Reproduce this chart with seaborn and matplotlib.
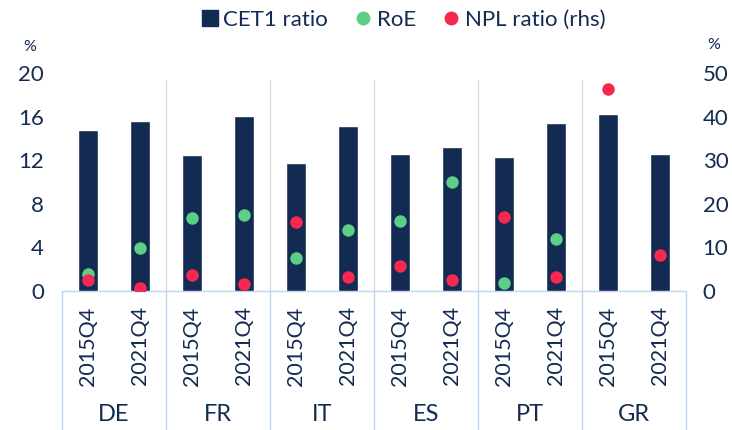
import numpy as np
import pandas as pd
import seaborn as sns
import matplotlib.pyplot as plt
from matplotlib.lines import Line2D
import matplotlib.transforms as mtransforms

# Data
countries = ['DE', 'FR', 'IT', 'ES', 'PT', 'GR']
periods = ['2015Q4', '2021Q4']
cet1 = [14.8, 15.6, 12.5, 16.1, 11.7, 15.1, 12.6, 13.2, 12.3, 15.4, 16.2, 12.6]
roe = [1.6, 3.9, 6.7, 7.0, 3.0, 5.6, 6.4, 10.0, 0.7, 4.8, np.nan, np.nan]
npl = [2.5, 0.8, 3.7, 1.6, 15.8, 3.2, 5.7, 2.5, 17.0, 3.2, 46.3, 8.3]

navy = '#132a52'
green = '#5ccf86'
red = '#f5284f'
box_blue = '#bcd6f3'
sep_grey = '#d9d9d9'

sns.set_style('white')
plt.rcParams['font.family'] = ['Lato', 'DejaVu Sans']

df = pd.DataFrame({
    'key': [f'{c}|{p}' for c in countries for p in periods],
    'cet1': cet1,
    'roe': roe,
    'npl': npl,
})
order = list(df['key'])

fig = plt.figure(figsize=(7.32, 4.30), dpi=100)
ax = fig.add_axes([62 / 732, 1 - 291 / 430, 624 / 732, 218 / 430])
ax2 = ax.twinx()

sns.barplot(data=df, x='key', y='cet1', order=order, color=navy, width=0.4,
            saturation=1, ax=ax, zorder=2)
sns.stripplot(data=df, x='key', y='roe', order=order, color=green, jitter=False,
              size=9, linewidth=0, ax=ax, zorder=3)
sns.stripplot(data=df, x='key', y='npl', order=order, color=red, jitter=False,
              size=9, linewidth=0, ax=ax2, zorder=3)

ax.set_xlim(-0.5, len(order) - 0.5)
ax2.set_xlim(-0.5, len(order) - 0.5)
ax.set_ylim(0, 20)
ax2.set_ylim(0, 50)
ax.set_yticks([0, 4, 8, 12, 16, 20])
ax2.set_yticks([0, 10, 20, 30, 40, 50])
ax.set_xlabel('')
ax.set_ylabel('')
ax2.set_ylabel('')
ax.set_xticks([])
ax2.set_xticks([])
for a in (ax, ax2):
    for s in a.spines.values():
        s.set_visible(False)
    a.tick_params(axis='y', length=0, labelsize=16, labelcolor=navy)
ax.tick_params(axis='y', pad=13)
ax2.tick_params(axis='y', pad=12)

# separators and bottom label box
trans = mtransforms.blended_transform_factory(ax.transData, ax.transAxes)
ybot = (291 - 430) / 218
n_per = len(periods)
for g in range(1, len(countries)):
    xb = g * n_per - 0.5
    ax.add_line(Line2D([xb, xb], [0, 0.968], transform=trans, color=sep_grey,
                       lw=1, zorder=1, clip_on=False))
for g in range(len(countries) + 1):
    xb = g * n_per - 0.5
    ax.add_line(Line2D([xb, xb], [ybot, 0], transform=trans, color=box_blue,
                       lw=1, zorder=1, clip_on=False))
ax.add_line(Line2D([-0.5, len(order) - 0.5], [0, 0], transform=trans,
                   color=box_blue, lw=1, zorder=1, clip_on=False))

for i, k in enumerate(order):
    ax.text(i, -0.07, k.split('|')[1], transform=trans, rotation=90,
            ha='center', va='top', fontsize=15.5, color=navy)
for g, c in enumerate(countries):
    ax.text(g * n_per + (n_per - 1) / 2, -0.565, c, transform=trans,
            ha='center', va='center', fontsize=17, color=navy)

fig.text(30 / 732, 1 - 47 / 430, '%', ha='center', va='center', fontsize=11.5, color=navy)
fig.text(714 / 732, 1 - 45 / 430, '%', ha='center', va='center', fontsize=11.5, color=navy)

handles = [
    Line2D([], [], marker='s', color=navy, linestyle='', markersize=11),
    Line2D([], [], marker='o', color=green, linestyle='', markersize=9),
    Line2D([], [], marker='o', color=red, linestyle='', markersize=9),
]
leg = fig.legend(handles, ['CET1 ratio', 'RoE', 'NPL ratio (rhs)'], loc='center',
                 bbox_to_anchor=(402 / 732, 1 - 20 / 430), ncol=3, frameon=False,
                 fontsize=16, handletextpad=0.1, columnspacing=1.1, handlelength=1.0)
for t in leg.get_texts():
    t.set_color(navy)

fig.savefig('out.png', dpi=100)
